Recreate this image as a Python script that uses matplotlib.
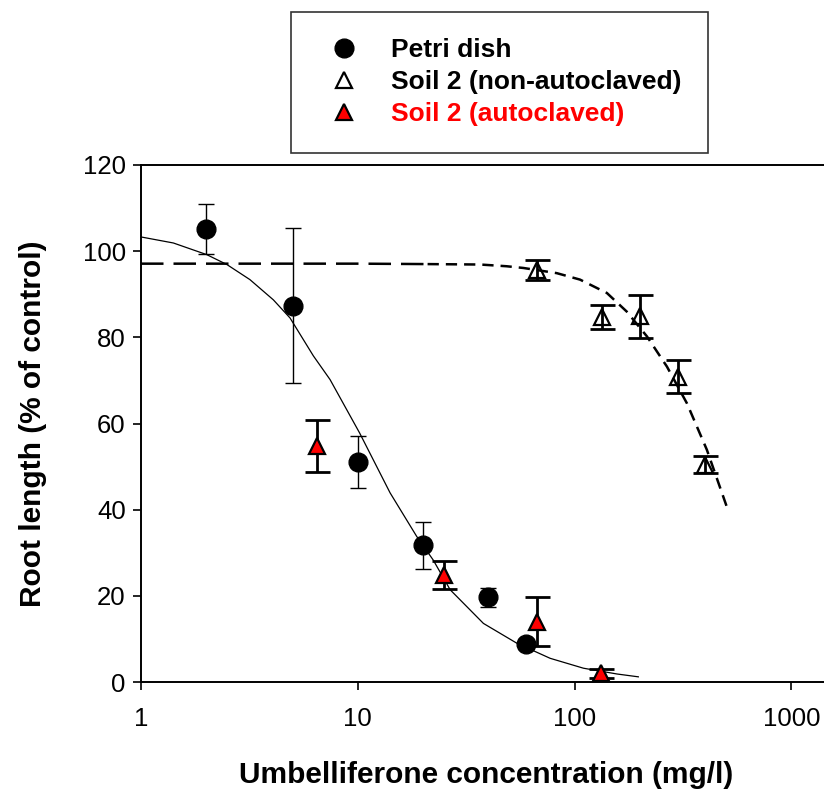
import numpy as np
import matplotlib
matplotlib.use("Agg")
import matplotlib.pyplot as plt

plt.rcParams['font.family'] = ['Liberation Sans', 'DejaVu Sans']

# Petri dish (filled circles)
petri_x = [2, 5, 10, 20, 40, 60]
petri_y = [105.2, 87.3, 51.1, 31.7, 19.7, 8.8]
petri_err = [5.8, 18.0, 6.0, 5.4, 2.2, 1.0]

# Soil 2 non-autoclaved (open triangles)
soil_na_x = [67, 134, 200, 300, 400]
soil_na_y = [95.7, 84.7, 84.9, 70.9, 50.4]
soil_na_err = [2.3, 2.7, 5.0, 3.8, 2.0]

# Soil 2 autoclaved (red triangles)
soil_a_x = [6.5, 25, 67, 133]
soil_a_y = [54.7, 24.9, 14.0, 2.0]
soil_a_err = [6.0, 3.2, 5.7, 1.0]

# fitted curves
fit_solid_x = [1, 1.41, 2.01, 2.49, 3.18, 4.08, 4.87, 6.24, 7.45, 10.2, 14.1,
               18.7, 22.3, 26.7, 38.0, 54.2, 77.2, 110, 157, 197]
fit_solid_y = [103.3, 101.9, 99.2, 96.9, 93.4, 88.7, 84.5, 75.7, 70.2, 57.8, 43.9,
               33.8, 28.3, 21.4, 13.6, 9.0, 5.5, 3.2, 1.86, 1.2]

fit_dash_x = [1, 2, 5, 10, 21, 36.7, 48.6, 58.1, 82.8, 106, 141, 174, 216, 267, 330, 408, 504]
fit_dash_y = [97.1, 97.1, 97.1, 97.1, 97.0, 96.9, 96.5, 96.1, 94.9, 93.4, 90.3, 86.0,
              80.2, 73.2, 64.7, 53.9, 40.7]

x_ticks = [1, 10, 100, 1000]
y_ticks = [0, 20, 40, 60, 80, 100, 120]

fig = plt.figure(figsize=(8.24, 7.94), dpi=100)
# axes run past the right edge of the figure, like the cropped original
ax = fig.add_axes([141/824, 112/794, 867/824, 517/794])
ax.set_xscale('log')
ax.set_xlim(1, 10000)
ax.set_ylim(0, 120)

# curves
ax.plot(fit_solid_x, fit_solid_y, color='black', lw=0.9, zorder=2)
ax.plot(fit_dash_x[:5], fit_dash_y[:5], color='black', lw=1.8, dashes=(9, 4), zorder=2)
ax.plot(fit_dash_x[4:], fit_dash_y[4:], color='black', lw=1.8, dashes=(4.5, 2.8), zorder=2)

# error bars
ax.errorbar(petri_x, petri_y, yerr=petri_err, fmt='none', ecolor='black',
            elinewidth=1.0, capsize=5.8, capthick=1.0, zorder=3)
ax.errorbar(soil_na_x, soil_na_y, yerr=soil_na_err, fmt='none', ecolor='black',
            elinewidth=2.0, capsize=9, capthick=2.0, zorder=3)
ax.errorbar(soil_a_x, soil_a_y, yerr=soil_a_err, fmt='none', ecolor='black',
            elinewidth=2.0, capsize=9, capthick=2.0, zorder=3)

# markers
ax.plot(petri_x, petri_y, 'o', ms=13.5, color='black', ls='none', zorder=4, label='Petri dish')
ax.plot(soil_na_x, soil_na_y, '^', ms=12, mfc='none', mec='black', mew=1.6, ls='none',
        zorder=4, label='Soil 2 (non-autoclaved)')
ax.plot(soil_a_x, soil_a_y, '^', ms=12, mfc='#ff0000', mec='black', mew=1.6, ls='none',
        zorder=4, label='Soil 2 (autoclaved)')

ax.set_xticks(x_ticks)
ax.set_xticklabels([str(t) for t in x_ticks])
ax.xaxis.set_minor_locator(matplotlib.ticker.NullLocator())
ax.set_yticks(y_ticks)
ax.tick_params(axis='both', direction='out', length=6, width=1.2, labelsize=18.5)
ax.tick_params(axis='x', pad=12)
ax.tick_params(axis='y', pad=5)

for side in ['left', 'bottom', 'top']:
    ax.spines[side].set_linewidth(1.4)
ax.spines['right'].set_visible(False)

fig.text(486/824, 1 - 775/794, 'Umbelliferone concentration (mg/l)', fontsize=21.5,
         fontweight='bold', ha='center', va='center')
fig.text(33/824, 1 - 424/794, 'Root length (% of control)', fontsize=21.5,
         fontweight='bold', ha='center', va='center', rotation=90)

leg = ax.legend(loc='upper left', bbox_to_anchor=(291/824, 1 - 12/794),
                bbox_transform=fig.transFigure, borderaxespad=0, numpoints=1,
                prop={'size': 19, 'weight': 'bold'}, frameon=True, fancybox=False,
                edgecolor='black', borderpad=1.0, labelspacing=0.3,
                handlelength=2.0, handletextpad=0.8)
leg.get_frame().set_linewidth(1.2)
leg.get_texts()[2].set_color('#ff0000')

fig.savefig('out.png', dpi=100)
